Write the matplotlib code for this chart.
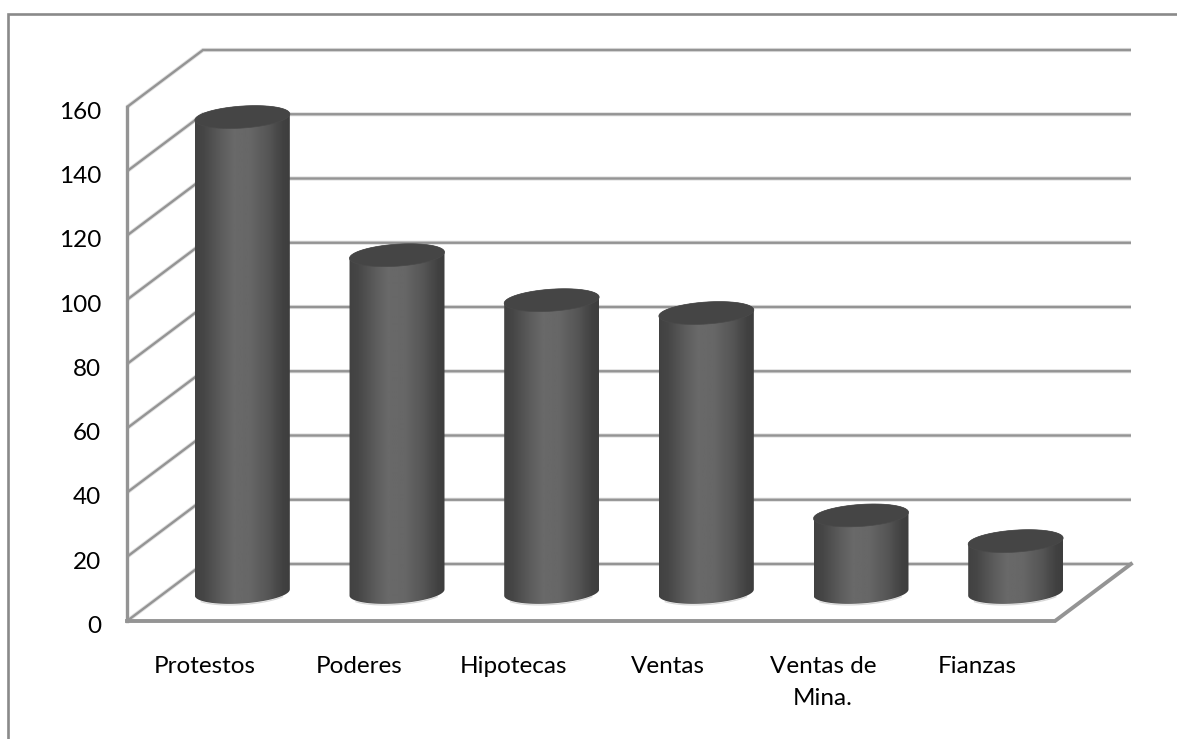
import matplotlib
matplotlib.use('Agg')
import matplotlib.pyplot as plt
import numpy as np
from matplotlib.path import Path
from matplotlib.patches import PathPatch, Polygon
from matplotlib.transforms import ScaledTranslation

plt.rcParams['font.family'] = ['Lato', 'DejaVu Sans']

# Data
categories = ['Protestos', 'Poderes', 'Hipotecas', 'Ventas', 'Ventas de\nMina.', 'Fianzas']
values = [148, 105, 91, 87, 24, 16]
yticks = [0, 20, 40, 60, 80, 100, 120, 140, 160]

W, H = 1177, 739
fig = plt.figure(figsize=(W / 100, H / 100), dpi=100)
ax = fig.add_axes([127 / W, (H - 621) / H, 928 / W, 514 / H])
ax.set_zorder(2)

px_x = 928 / 6          # pixels per category
px_y = 514 / 160        # pixels per unit
depth_x = 76 / px_x     # 3d wall offset in data units
depth_y = 57 / px_y
grid_col = '#949494'
halo_col = '#e0e0e0'


def wall_line(v, lw, col, z):
    ax.plot([0, depth_x, 6 + depth_x], [v, v + depth_y, v + depth_y], color=col, lw=lw,
            solid_joinstyle='miter', solid_capstyle='butt', clip_on=False, zorder=z)


for v in yticks:
    wall_line(v, 3.0, halo_col, 1)
    wall_line(v, 1.7, grid_col, 1.1)

# y axis and floor front edge
ax.plot([0, 0], [0, 160], color=grid_col, lw=2.4, clip_on=False, zorder=1.2)
ax.plot([0, 6, 6 + depth_x], [0, 0, depth_y], color=grid_col, lw=2.8,
        solid_joinstyle='miter', clip_on=False, zorder=1.2)

# horizontal shading of the cylinders
shade_pos = [0, 0.08, 0.25, 0.40, 0.58, 0.78, 0.93, 1]
shade_val = [66, 70, 90, 105, 103, 86, 66, 62]
shade = np.interp(np.linspace(0, 1, 48), shade_pos, shade_val)[None, :]

half_w = 47.5
half_h = 11
tilt = -0.065
t = np.linspace(0, 2 * np.pi, 90)

for i, val in enumerate(values):
    cx = i + 0.5 + depth_x / 2
    base = depth_y / 2
    top = val + depth_y / 2
    ell_x = half_w * np.cos(t) / px_x
    ell_y = (half_h * np.sin(t) - tilt * half_w * np.cos(t)) / px_y
    left = np.argmin(ell_x)
    # body outline: lower half of base ellipse + upper half of top ellipse
    low_x = ell_x[left:]
    low_y = ell_y[left:]
    up_x = ell_x[:left + 1]
    up_y = ell_y[:left + 1]
    xs = np.concatenate([cx + low_x, cx + up_x])
    ys = np.concatenate([base + low_y, top + up_y])
    body = PathPatch(Path(np.column_stack([xs, ys])), fc='none', ec='none',
                     transform=ax.transData, clip_on=False)
    ax.add_patch(body)
    im = ax.imshow(shade, cmap='gray', vmin=0, vmax=255, aspect='auto', interpolation='bilinear',
                   extent=[cx - half_w / px_x, cx + half_w / px_x, base - 15, top + 15], zorder=3)
    im.set_clip_box(fig.bbox)
    im.set_clip_path(body)
    # pale rim under the base
    ax.plot(cx + low_x[8:-8], base + low_y[8:-8] - 1.0 / px_y, color='#d8d8d8', lw=0.9,
            clip_on=False, zorder=2.9)
    ax.add_patch(Polygon(np.column_stack([cx + ell_x, top + ell_y]), closed=True, clip_on=False,
                         fc='#454545', ec='#4a4a4a', lw=0.5, zorder=4))

ax.set_xlim(0, 6)
ax.set_ylim(0, 160)
ax.set_xticks(np.arange(6) + 0.5)
ax.set_xticklabels(categories, fontsize=17.5, linespacing=1.65, color='black')
ax.set_yticks(yticks)
ax.tick_params(axis='both', length=0, labelsize=17.5, labelcolor='black')
ax.tick_params(axis='x', pad=25)
ax.tick_params(axis='y', pad=18.5)
for lab in ax.get_yticklabels():
    lab.set_transform(lab.get_transform() + ScaledTranslation(0, -2.5 / 72, fig.dpi_scale_trans))
for s in ax.spines.values():
    s.set_visible(False)
ax.patch.set_alpha(0)

# outer chart frame, only top and left survive in the screenshot
fig.add_artist(plt.Line2D([7.5 / W, 7.5 / W, 1], [0, 1 - 14 / H, 1 - 14 / H],
                          color='#8a8a8a', lw=1.9, solid_joinstyle='miter'))

fig.savefig('out.png', dpi=100)
